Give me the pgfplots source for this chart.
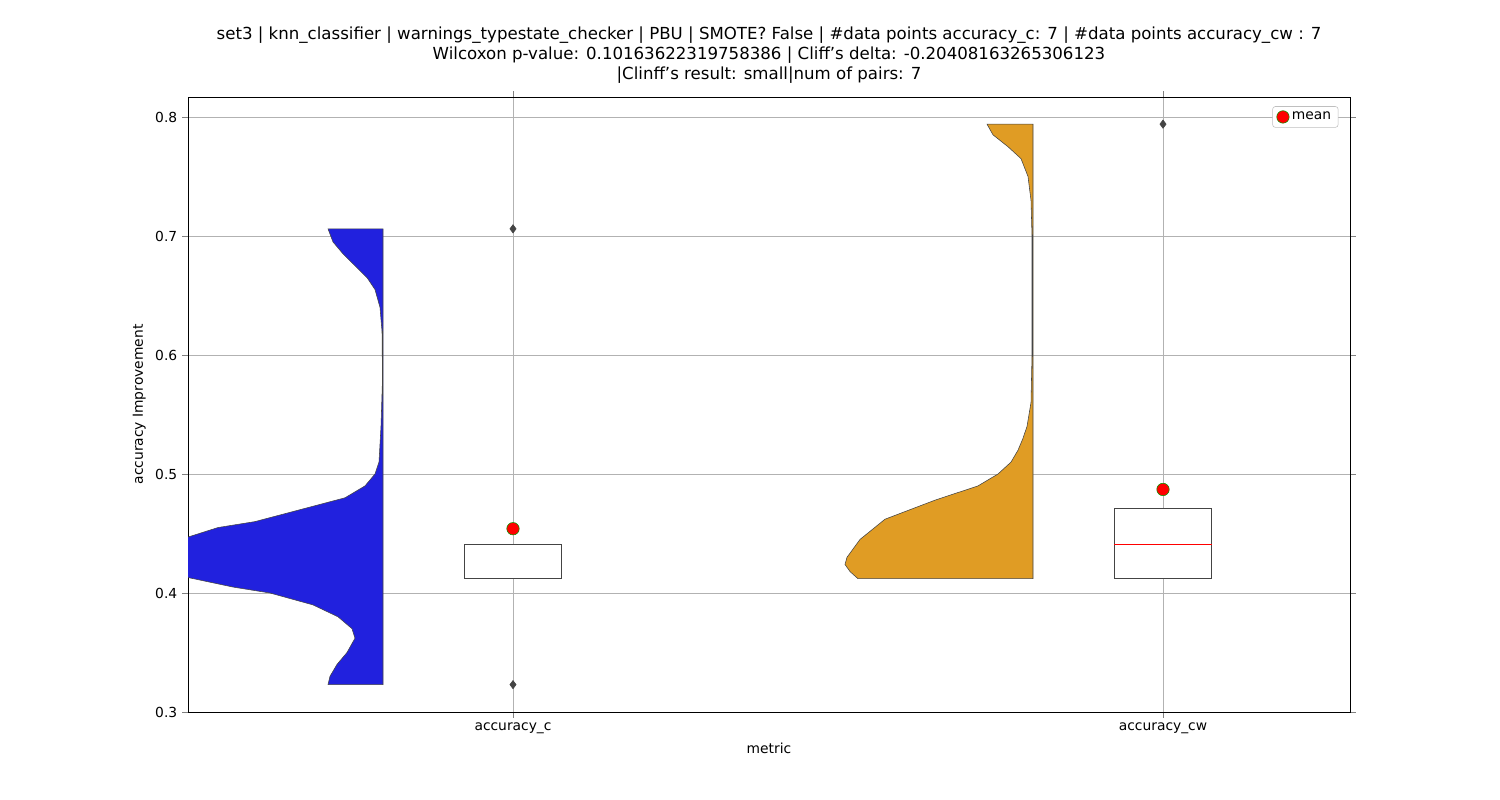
\documentclass[border=0pt]{standalone}
\usepackage{pgfplots}
\pgfplotsset{compat=1.18}
\usepackage{fontspec}
\setmainfont{DejaVu Sans}
\definecolor{vblue}{RGB}{33,33,222}
\definecolor{vorange}{RGB}{224,156,36}
\definecolor{edge}{RGB}{68,68,68}
\begin{document}
\begin{tikzpicture}
\path[use as bounding box] (0,0) rectangle (15in,8in);
\begin{axis}[at={(1.88in,0.88in)},anchor=south west,scale only axis,
 width=11.62in,height=6.15in,
 xmin=-0.5,xmax=1.2877,ymin=0.3,ymax=0.8168,
 xtick={0,1},xticklabels={accuracy\_c,accuracy\_cw},
 ytick={0.3,0.4,0.5,0.6,0.7,0.8},
 yticklabel style={/pgf/number format/fixed,/pgf/number format/precision=1,/pgf/number format/fixed zerofill},
 /pgf/number format/assume math mode=true,
 tick label style={font=\fontsize{10}{12}\selectfont},
 label style={font=\fontsize{10}{12}\selectfont},
 xlabel={metric},ylabel={accuracy Improvement},
 grid=major,grid style={gray!60},
 tick align=outside,
 title style={font=\fontsize{12}{14.5}\selectfont,align=center},
 title={set3 | knn\_classifier | warnings\_typestate\_checker | PBU | SMOTE? False | \#data points accuracy\_c: 7 | \#data points accuracy\_cw : 7\\Wilcoxon p-value: 0.10163622319758386 | Cliff's delta: -0.20408163265306123\\|Clinff's result: small|num of pairs: 7},
 legend style={at={(0.99,0.985)},anchor=north east,font=\fontsize{10}{12}\selectfont,draw=gray!50,rounded corners=2pt},
 x filter/.code={},
]
% blue violin (widths in px /650)
\addplot[fill=vblue,draw=edge,thin,forget plot] table[x expr={-0.2-\thisrow{w}/650},y=y]{
w y
0 0.706
55 0.706
50 0.695
40 0.685
28 0.675
16 0.665
8 0.655
3 0.64
1 0.62
0.5 0.58
2 0.54
4 0.51
8 0.50
18 0.49
38 0.48
83 0.47
128 0.46
165 0.455
195 0.447
225 0.44
240 0.43
225 0.42
195 0.413
150 0.405
113 0.40
70 0.39
45 0.38
31 0.37
28 0.362
36 0.35
46 0.34
53 0.33
55 0.323
0 0.323
} -- cycle;
% orange violin
\addplot[fill=vorange,draw=edge,thin,forget plot] table[x expr={0.8-\thisrow{w}/650},y=y]{
w y
0 0.794
46 0.794
40 0.785
25 0.775
12 0.765
5 0.75
2 0.73
1 0.70
1 0.60
2 0.56
6 0.54
10 0.53
15 0.52
22 0.51
35 0.50
55 0.49
98 0.478
148 0.462
173 0.445
186 0.43
188 0.424
183 0.418
175 0.412
0 0.412
} -- cycle;
% boxes
\addplot[draw=edge,thick,fill=white,forget plot] coordinates {(-0.075,0.412)(0.075,0.412)(0.075,0.441)(-0.075,0.441)} -- cycle;
\addplot[draw=edge,thick,fill=white,forget plot] coordinates {(0.925,0.412)(1.075,0.412)(1.075,0.471)(0.925,0.471)} -- cycle;
\addplot[red,thick,forget plot] coordinates {(0.925,0.441)(1.075,0.441)};
% outliers
\addplot[only marks,mark=diamond*,mark size=3pt,color=edge,forget plot] coordinates {(0,0.706)(0,0.323)(1,0.794)};
% means
\addplot[only marks,mark=*,mark size=4.5pt,fill=red,draw=green!60!black] coordinates {(0,0.454)(1,0.487)};
\addlegendentry{mean}
\end{axis}
\end{tikzpicture}
\end{document}
